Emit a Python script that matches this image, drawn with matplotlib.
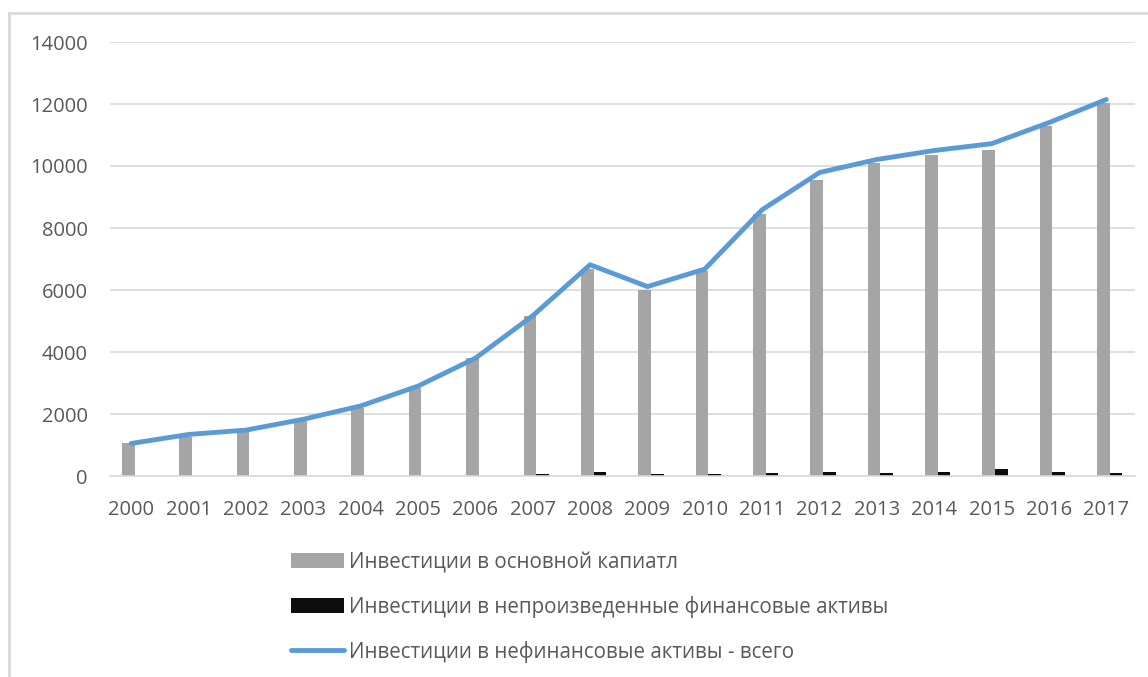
import matplotlib
matplotlib.use("Agg")
import matplotlib.pyplot as plt
from matplotlib.lines import Line2D
import numpy as np

plt.rcParams['font.family'] = ['Open Sans', 'DejaVu Sans']

years = [str(y) for y in range(2000, 2018)]
fixed_capital = [1050, 1270, 1430, 1760, 2190, 2830, 3810, 5170, 6670, 6010,
                 6600, 8460, 9560, 10110, 10340, 10500, 11280, 12040]
nonproduced = [0, 0, 0, 0, 0, 0, 0, 50, 130, 50,
               50, 100, 140, 100, 140, 210, 140, 100]
total = [1050, 1340, 1480, 1830, 2260, 2900, 3800, 5170, 6815, 6110,
         6675, 8590, 9790, 10210, 10500, 10720, 11400, 12145]

labels = ["Инвестиции в основной капиатл",
          "Инвестиции в непроизведенные финансовые активы",
          "Инвестиции в нефинансовые активы - всего"]

W, H = 1148, 677
fig = plt.figure(figsize=(W / 100, H / 100), dpi=100)
ax = fig.add_axes([110 / W, 1 - 476 / H, (1135 - 110) / W, (476 - 42) / H])

x = np.arange(len(years))
bw = 0.22
b1 = ax.bar(x - bw / 2 + 0.06, fixed_capital, width=bw, color='#A5A5A5', zorder=2)
b2 = ax.bar(x + bw / 2 + 0.06, nonproduced, width=bw, color='#0D0D0D', zorder=2)
ln, = ax.plot(x, total, color='#5B9BD5', linewidth=3.5, zorder=3,
              solid_capstyle='round', solid_joinstyle='round')

ax.set_xlim(-0.37, 17.5)
ax.set_ylim(0, 14000)
ax.set_yticks(range(0, 14001, 2000))
ax.set_xticks(x)
ax.set_xticklabels(years)
ax.grid(axis='y', color='#D9D9D9', linewidth=1.2, zorder=0)
for s in ['top', 'right', 'left']:
    ax.spines[s].set_visible(False)
ax.spines['bottom'].set_color('#D9D9D9')
ax.spines['bottom'].set_linewidth(1.2)
ax.tick_params(length=0, labelsize=14.5, colors='#595959')
ax.tick_params(axis='x', pad=17)
ax.tick_params(axis='y', pad=16)

# chart frame (left and top edges visible)
fig.add_artist(Line2D([9 / W, 9 / W], [0, 1 - 12.5 / H], color='#D9D9D9', linewidth=2))
fig.add_artist(Line2D([9 / W, 1], [1 - 12.5 / H, 1 - 12.5 / H], color='#D9D9D9', linewidth=2))

leg = fig.legend([b1, b2, ln], labels, loc='upper left',
                 bbox_to_anchor=(272 / W, 1 - 533 / H), frameon=False,
                 fontsize=14.8, labelcolor='#595959', handlelength=2.6,
                 handletextpad=0.25, labelspacing=1.12)

fig.savefig("out.png", dpi=100, facecolor='white')
